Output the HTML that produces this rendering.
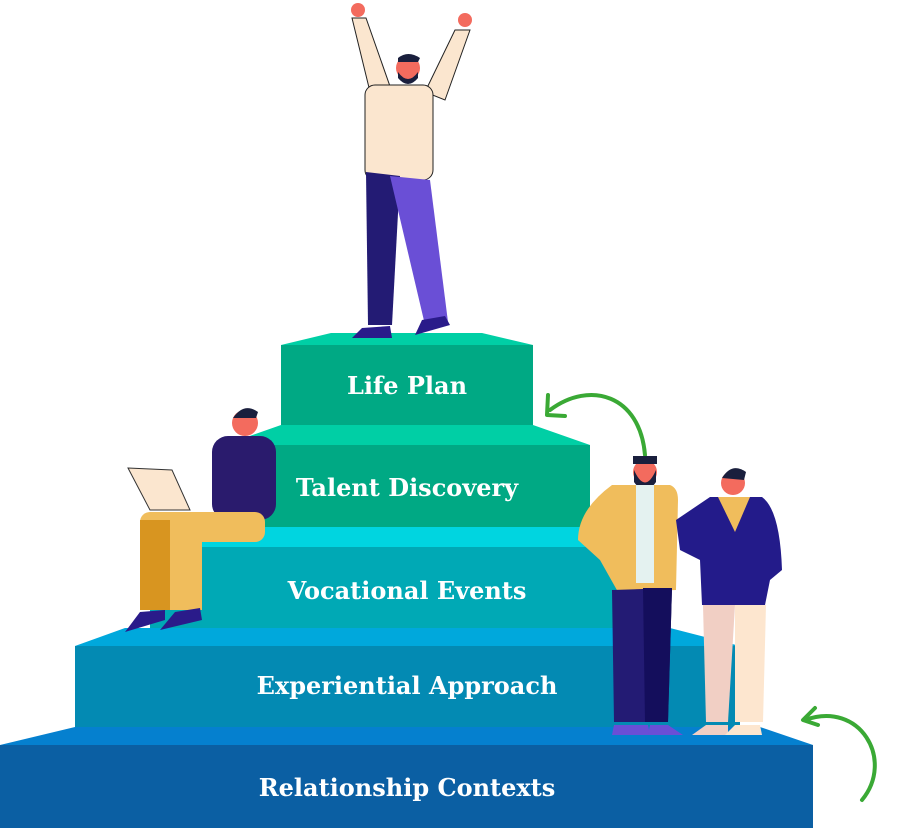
<!DOCTYPE html>
<html><head><meta charset="utf-8"><style>
html,body{margin:0;padding:0;background:#fff;}
body{width:899px;height:828px;position:relative;overflow:hidden;}
svg{position:absolute;left:0;top:0;}
text{font-family:"DejaVu Serif","Liberation Serif",serif;font-weight:bold;fill:#fff;font-size:24px;}
</style></head><body>
<svg width="899" height="828" viewBox="0 0 899 828">
<!-- step 1 -->
<polygon points="75,727 760,727 813,745 0,745" fill="#0580cf"/>
<rect x="0" y="745" width="813" height="83" fill="#0b5fa3"/>
<!-- step 2 -->
<polygon points="125,628 670,628 740,646 75,646" fill="#00a8dc"/>
<rect x="75" y="646" width="665" height="81" fill="#038ab3"/>
<!-- step 3 -->
<polygon points="210,527 600,527 664,547 150,547" fill="#00d5e0"/>
<rect x="150" y="547" width="514" height="81" fill="#00a9b5"/>
<!-- step 4 -->
<polygon points="281,425 533,425 590,445 224,445" fill="#00cfa5"/>
<rect x="224" y="445" width="366" height="82" fill="#00a984"/>
<!-- step 5 -->
<polygon points="331,333 482,333 533,345 281,345" fill="#00cfa5"/>
<rect x="281" y="345" width="252" height="80" fill="#00a984"/>

<text x="407" y="394" text-anchor="middle">Life Plan</text>
<text x="407" y="496" text-anchor="middle">Talent Discovery</text>
<text x="407" y="599" text-anchor="middle">Vocational Events</text>
<text x="407" y="694" text-anchor="middle">Experiential Approach</text>
<text x="407" y="796" text-anchor="middle">Relationship Contexts</text>

<!-- arrows -->
<path d="M645,455 C640,395 590,380 550,410" fill="none" stroke="#3aa935" stroke-width="4" stroke-linecap="round"/>
<path d="M548,395 L547,415 L565,416" fill="none" stroke="#3aa935" stroke-width="4" stroke-linecap="round" stroke-linejoin="round"/>
<path d="M862,800 C895,760 860,700 805,720" fill="none" stroke="#3aa935" stroke-width="4" stroke-linecap="round"/>
<path d="M815,708 L803,720 L818,725" fill="none" stroke="#3aa935" stroke-width="4" stroke-linecap="round" stroke-linejoin="round"/>

<!-- top man -->
<g>
<polygon points="352,18 372,100 392,92 366,18" fill="#fbe6cf" stroke="#222" stroke-width="1"/>
<polygon points="470,30 445,100 425,92 455,30" fill="#fbe6cf" stroke="#222" stroke-width="1"/>
<rect x="365" y="85" width="68" height="95" rx="10" fill="#fbe6cf" stroke="#222" stroke-width="1"/>
<circle cx="408" cy="68" r="12" fill="#f36b5e"/>
<path d="M398,58 Q408,50 420,58 L418,62 L398,62Z" fill="#1a1f3d"/>
<path d="M398,72 Q408,86 418,72 L418,78 Q408,90 398,78Z" fill="#1a1f3d"/>
<circle cx="358" cy="10" r="7" fill="#f36b5e"/>
<circle cx="465" cy="20" r="7" fill="#f36b5e"/>
<polygon points="366,172 400,176 392,325 368,325" fill="#231b74"/>
<polygon points="390,176 430,180 448,322 425,325" fill="#6a4fd6"/>
<path d="M352,338 L392,338 L390,326 L362,328Z" fill="#2a1b8a"/>
<path d="M415,335 L450,325 L445,316 L422,320Z" fill="#2a1b8a"/>
</g>

<!-- seated man -->
<g>
<polygon points="128,468 172,470 190,510 150,510" fill="#fbe6cf" stroke="#333" stroke-width="1"/>
<circle cx="245" cy="423" r="13" fill="#f36b5e"/>
<path d="M233,418 Q244,402 258,412 L256,418 Z" fill="#1a1f3d"/>
<rect x="212" y="436" width="64" height="84" rx="16" fill="#2a1b6d"/>
<rect x="140" y="512" width="125" height="30" rx="10" fill="#f0bd5c"/>
<rect x="140" y="520" width="30" height="90" fill="#d89520"/>
<rect x="170" y="520" width="32" height="90" fill="#f0bd5c"/>
<path d="M125,632 L165,620 L165,610 L140,612Z" fill="#2a1b8a"/>
<path d="M160,630 L202,620 L200,608 L175,612Z" fill="#2a1b8a"/>
</g>

<!-- bearded man -->
<g>
<circle cx="645" cy="472" r="12" fill="#f36b5e"/>
<path d="M634,470 Q645,495 656,470 L656,482 Q645,498 634,482Z" fill="#1a1f3d"/>
<rect x="633" y="456" width="24" height="8" fill="#1a1f3d"/>
<path d="M612,485 L670,485 Q678,488 678,500 L676,590 L618,592 L600,560 L578,540 Q578,510 612,485Z" fill="#f0bd5c"/>
<rect x="636" y="485" width="18" height="98" fill="#e4f2f0"/>
<polygon points="612,590 672,588 668,722 614,722" fill="#231b74"/>
<polygon points="643,588 672,588 668,722 645,722" fill="#140e5c"/>
<path d="M612,735 L650,735 L648,725 L614,725Z" fill="#6a4fd6"/>
<path d="M648,735 L683,735 L668,725 L650,725Z" fill="#6a4fd6"/>
</g>
<!-- second man -->
<g>
<circle cx="733" cy="483" r="12" fill="#f36b5e"/>
<path d="M722,478 Q732,462 746,472 L744,480 Z" fill="#1a1f3d"/>
<path d="M676,520 L710,497 L762,497 Q780,510 782,570 L770,580 L765,605 L702,605 L700,560 L680,550Z" fill="#231b8a"/>
<polygon points="718,497 750,497 735,532" fill="#f0bd5c"/>
<polygon points="703,605 735,605 728,722 706,722" fill="#f1cfc4"/>
<polygon points="735,605 766,605 763,722 735,722" fill="#fde6cf"/>
<path d="M692,735 L728,735 L728,725 L706,725Z" fill="#f1cfc4"/>
<path d="M725,735 L762,735 L760,725 L735,725Z" fill="#fde6cf"/>
</g>
</svg>
</body></html>
